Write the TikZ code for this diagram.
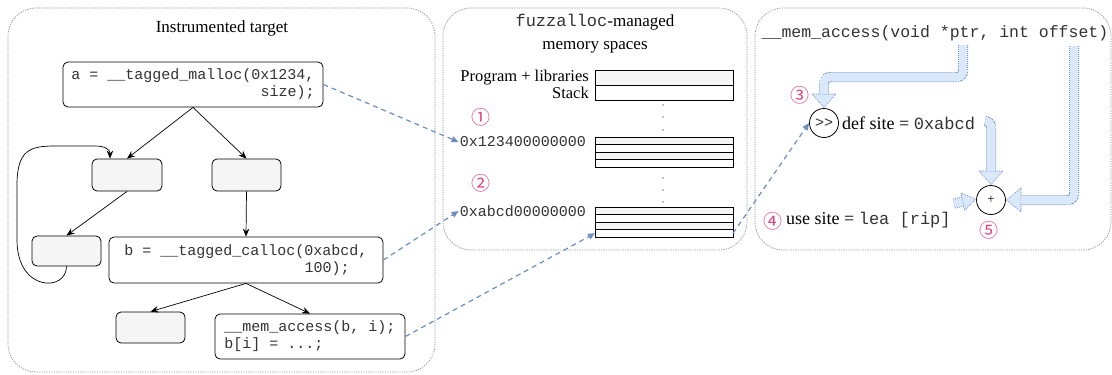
\documentclass[tikz,border=0pt]{standalone}
\usepackage{fontspec}
\setmainfont{Liberation Serif}
\setmonofont{Liberation Mono}
\newfontfamily\symfont{Noto Sans CJK JP}
\usetikzlibrary{arrows.meta}
\definecolor{edgeblue}{HTML}{6C8EBF}
\definecolor{flexfill}{HTML}{DAE8FC}
\definecolor{boxgray}{HTML}{F5F5F5}
\definecolor{numpink}{HTML}{E0407F}
\definecolor{monotext}{HTML}{333333}
\newcommand\mfs[2]{\fontsize{#1}{#2}\selectfont}
\newcommand\mono{\ttfamily\color{monotext}}
\newcommand\flexarrow[2]{%
  \path[flexhead] #2;
  \draw[flexedge] #1;
  \draw[flexcore] #1;}
\tikzset{
  panel/.style={draw=black!45, dash pattern=on 1.2pt off 1.2pt, line width=0.7pt, rounded corners=28pt},
  code/.style={draw, rounded corners=5pt, line width=0.8pt, font=\mono\mfs{15}{17}, inner sep=0pt, align=left},
  blank/.style={draw, fill=boxgray, rounded corners=5pt, line width=0.8pt, inner sep=0pt},
  conn/.style={-{Stealth[length=8pt,width=6.5pt]}, line width=0.7pt},
  memlink/.style={draw=edgeblue, dash pattern=on 5pt off 4pt, line width=1.2pt, -{Triangle[length=7pt,width=6pt]}},
  memrow/.style={draw, line width=0.8pt, minimum width=138pt, inner sep=0pt, outer sep=0pt},
  flexhead/.style={fill=flexfill, draw=edgeblue, line width=0.6pt, dash pattern=on 1pt off 1pt, line join=round},
  flexedge/.style={draw=edgeblue, line width=10pt, dash pattern=on 1pt off 1pt, rounded corners=6pt},
  flexcore/.style={draw=flexfill, line width=8.2pt, rounded corners=6pt},
  num/.style={font=\symfont\mfs{19}{19}, text=numpink, inner sep=0pt},
  serif/.style={font=\mfs{16.5}{19}, inner sep=0pt},
  bigserif/.style={font=\mfs{18}{20}, inner sep=0pt},
  addr/.style={font=\mono\mfs{15}{17}, inner sep=1pt, anchor=east},
  opcircle/.style={circle, draw, line width=0.8pt, minimum size=29pt, inner sep=0pt}
}
\begin{document}
\begin{tikzpicture}[x=1pt,y=-1pt]
\useasboundingbox (0,0) rectangle (1112,375);
% panels
\draw[panel] (8,8) rectangle (435,372);
\draw[panel] (443,8) rectangle (747,250);
\draw[panel] (755,8) rectangle (1111,250);

% ---- panel 1
\node[font=\mfs{17}{19}] (t1) at (222,28) {Instrumented target};
\node[code, minimum width=260pt, minimum height=45pt] (A) at (193,84.5)
  {a = \_\_tagged\_malloc(0x1234,\\\phantom{xxxxxxxxxxxxxxxxxxxxx}size);};
\node[blank, minimum width=70pt, minimum height=32pt] (B1) at (127,175) {};
\node[blank, minimum width=69pt, minimum height=32pt] (B2) at (246.5,175) {};
\node[blank, minimum width=69pt, minimum height=30pt] (C) at (66.5,251) {};
\node[code, minimum width=274pt, minimum height=46pt] (D) at (246,260)
  {b = \_\_tagged\_calloc(0xabcd,\\\phantom{xxxxxxxxxxxxxxxxxxxx}100);};
\node[blank, minimum width=69pt, minimum height=31pt] (E) at (150.5,327.5) {};
\node[code, minimum width=190pt, minimum height=45pt] (F) at (310,336.5)
  {\_\_mem\_access(b, i);\\b[i] = ...;};

\draw[conn] (A.south) -- (B1.north);
\draw[conn] (A.south) -- (B2.north);
\draw[conn] (B1.south) -- (C.north);
\draw[conn] (B2.south) -- (D.north);
\draw[conn] (D.south) -- (E.north);
\draw[conn] (D.south) -- (F.north);
\draw[conn] (C.south) .. controls (66.5,292) and (17,292) .. (17,240)
  -- (17,185) .. controls (17,150) and (30,146) .. (55,146)
  -- (95,146) .. controls (106,146) and (110,150) .. ([xshift=-17pt]B1.north);

% ---- panel 2
\node[font=\mfs{17}{23}, align=center] (t2) at (595,34)
  {{\mono fuzzalloc}-managed\\memory spaces};
\node[memrow, fill=boxgray, minimum height=15pt] (m1a) at (664,77.5) {};
\node[memrow, fill=white, minimum height=15pt] (m1b) at (664,92.5) {};
\node[serif, anchor=east] (lprog) at (589,78) {Program + libraries};
\node[serif, anchor=east] (lstack) at (589,93) {Stack};

\node[memrow, fill=boxgray, minimum height=7.5pt] (m2a) at (664,140.75) {};
\node[memrow, fill=white, minimum height=7.5pt] (m2b) at (664,148.25) {};
\node[memrow, fill=boxgray, minimum height=7.5pt] (m2c) at (664,155.75) {};
\node[memrow, fill=white, minimum height=7.5pt] (m2d) at (664,163.25) {};

\node[memrow, fill=boxgray, minimum height=7.5pt] (m3a) at (664,210.75) {};
\node[memrow, fill=white, minimum height=7.5pt] (m3b) at (664,218.25) {};
\node[memrow, fill=boxgray, minimum height=7.5pt] (m3c) at (664,225.75) {};
\node[memrow, fill=white, minimum height=7.5pt] (m3d) at (664,233.25) {};

\foreach \yy in {105,117,130,178,190,202} \fill (663,\yy) circle (0.7pt);

\node[addr] (addr1) at (587,142) {0x123400000000};
\node[addr] (addr2) at (587,211) {0xabcd00000000};
\node[num] (n1) at (481,117) {①};
\node[num] (n2) at (481,183) {②};

% ---- panel 3
\node[font=\mono\mfs{16.5}{19}, inner sep=0pt] (sig) at (935,33)
  {\_\_mem\_access(void *ptr, int offset)};
\node[opcircle, font=\mono\mfs{15}{17}] (sh) at (824,123) {>{}>};
\node[opcircle, font=\mfs{13}{15}] (plus) at (991,200) {+};
\node[bigserif, anchor=west] (defl) at (842,123)
  {def site = {\mono\mfs{17}{19}0xabcd}};
\node[num] (n3) at (800,95) {③};
\node[num] (n4) at (773,221) {④};
\node[bigserif, anchor=west] (usel) at (786,220)
  {use site = {\mono\mfs{17}{19}lea [rip]}};
\node[num] (n5) at (989,230) {⑤};

% flex arrows
\flexarrow{(963,45) -- (963,77) -- (824,77) -- (824,94)}
          {(812,94) -- (836,94) -- (824,107.5) -- cycle}
\flexarrow{(985,121) -- (991,121) -- (991,171)}
          {(979,171) -- (1003,171) -- (991,184.5) -- cycle}
\flexarrow{(1074,46) -- (1074,200) -- (1021,200)}
          {(1021,188) -- (1021,212) -- (1006.5,200) -- cycle}
\begin{scope}[shift={(975.5,199)}, rotate=12]
\flexarrow{(-22,0) -- (-13,0)}
          {(-13,-9) -- (-13,9) -- (0,0) -- cycle}
\end{scope}

% dashed memory links
\draw[memlink] (A.east) -- (addr1.west);
\draw[memlink] (D.east) -- (addr2.west);
\draw[memlink] (F.east) -- (m3d.west);
\draw[memlink] (m3d.east) -- (sh.west);
\end{tikzpicture}
\end{document}
